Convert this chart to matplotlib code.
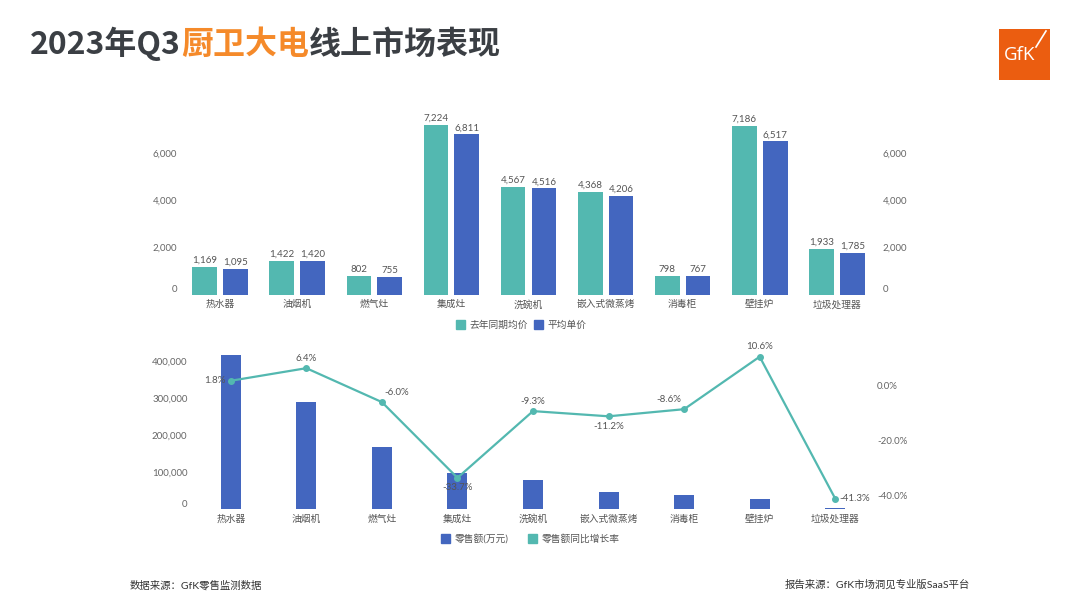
import numpy as np
import matplotlib
matplotlib.use('Agg')
import matplotlib.pyplot as plt
from matplotlib.patches import Patch, Rectangle
from matplotlib.lines import Line2D
from matplotlib.ticker import FuncFormatter

plt.rcParams['font.family'] = ['Lato', 'Noto Sans CJK SC', 'DejaVu Sans']

# 数据
categories = ['热水器', '油烟机', '燃气灶', '集成灶', '洗碗机', '嵌入式微蒸烤', '消毒柜', '壁挂炉', '垃圾处理器']
price_last_year = [1169, 1422, 802, 7224, 4567, 4368, 798, 7186, 1933]
price_avg = [1095, 1420, 755, 6811, 4516, 4206, 767, 6517, 1785]
sales = [415000, 288000, 167000, 98000, 78000, 46000, 37000, 27000, 3000]
growth = [1.8, 6.4, -6.0, -33.7, -9.3, -11.2, -8.6, 10.6, -41.3]

TEAL = '#53b8b0'
BLUE = '#4366bf'
GRAY = '#666666'
W, H = 1080, 608

fig = plt.figure(figsize=(W / 100, H / 100), dpi=100)


def fx(px):
    return px / W


def fy(py):
    return 1 - py / H


# ---- 标题 (分段着色) ----
renderer = fig.canvas.get_renderer()
x = fx(30)
for part, color in [('2023年Q3', '#3b3f44'), ('厨卫大电', '#f58a2a'), ('线上市场表现', '#3b3f44')]:
    t = fig.text(x, fy(54), part, fontsize=23, fontweight='bold', color=color,
                 ha='left', va='baseline', family=['Noto Sans CJK SC', 'DejaVu Sans'])
    bb = t.get_window_extent(renderer)
    x += bb.width / W

# ---- GfK logo ----
fig.patches.append(Rectangle((fx(999), fy(80)), fx(51), 51 / H, transform=fig.transFigure,
                             facecolor='#eb5d10', edgecolor='none'))
fig.text(fx(1020), fy(55), 'GfK', color='white', fontsize=13.5, ha='center', va='center',
         family=['Open Sans', 'DejaVu Sans'])
fig.lines.append(Line2D([fx(1036), fx(1046)], [fy(47), fy(31)], transform=fig.transFigure,
                        color='white', lw=1.2))


def zero_low(ax):
    # 0 刻度标签略微上移
    fig.canvas.draw()
    for lab in ax.get_yticklabels():
        if lab.get_text() == '0':
            lab.set_va('bottom')


def clean(ax):
    for s in ax.spines.values():
        s.set_visible(False)
    ax.tick_params(length=0, labelsize=7, colors=GRAY)


xs = np.arange(len(categories))
fmt = FuncFormatter(lambda v, p: f'{v:,.0f}')

# ---- 上图：均价 ----
ax1 = fig.add_axes([fx(181.5), fy(294.5), fx(694), (294.5 - 120.6) / H])
b1 = ax1.bar(xs - 0.2, price_last_year, width=0.32, color=TEAL)
b2 = ax1.bar(xs + 0.2, price_avg, width=0.32, color=BLUE)
for bars, vals in [(b1, price_last_year), (b2, price_avg)]:
    for r, v in zip(bars, vals):
        ax1.annotate(f'{v:,}', (r.get_x() + r.get_width() / 2, v), xytext=(0, 1.5),
                     textcoords='offset points', ha='center', va='bottom', fontsize=7,
                     color='#555555', annotation_clip=False)
ax1.set_xlim(-0.5, len(categories) - 0.5)
ax1.set_ylim(0, 7400)
ax1.set_yticks([0, 2000, 4000, 6000])
ax1.yaxis.set_major_formatter(fmt)
ax1.set_xticks(xs)
ax1.set_xticklabels(categories)
clean(ax1)
ax1.tick_params(axis='y', pad=3)
ax1.tick_params(axis='x', pad=4, colors='#555555')
ax1r = ax1.twinx()
ax1r.set_ylim(ax1.get_ylim())
ax1r.set_yticks([0, 2000, 4000, 6000])
ax1r.yaxis.set_major_formatter(fmt)
clean(ax1r)
ax1r.tick_params(axis='y', pad=5)

fig.legend(handles=[Patch(color=TEAL, label='去年同期均价'), Patch(color=BLUE, label='平均单价')],
           loc='center', bbox_to_anchor=(fx(521), fy(325)), ncol=2, frameon=False,
           fontsize=7, handlelength=1.0, handleheight=1.0, handletextpad=0.4,
           columnspacing=0.6, labelcolor='#555555')

# ---- 下图：零售额 + 同比 ----
ax2 = fig.add_axes([fx(193), fy(509), fx(680), (509 - 350) / H])
ax2.bar(xs, sales, width=0.265, color=BLUE)
ax2.set_xlim(-0.5, len(categories) - 0.5)
ax2.set_ylim(0, 429700)
ax2.set_yticks([0, 100000, 200000, 300000, 400000])
ax2.yaxis.set_major_formatter(fmt)
ax2.set_xticks(xs)
ax2.set_xticklabels(categories)
clean(ax2)
ax2.tick_params(axis='y', pad=4)
ax2.tick_params(axis='x', pad=4, colors='#555555')

ax2r = ax2.twinx()
ax2r.plot(xs, growth, color=TEAL, lw=1.6, marker='o', ms=4, clip_on=False, zorder=3)
ax2r.set_ylim(-45.1, 13.05)
ax2r.set_yticks([-40, -20, 0])
ax2r.yaxis.set_major_formatter(FuncFormatter(lambda v, p: f'{v:.1f}%'))
clean(ax2r)
ax2r.tick_params(axis='y', pad=3)

# 标签位置 (dx, dy, ha, va)
placements = [(-4, 0, 'right', 'center'), (0, 4, 'center', 'bottom'), (1.5, 4, 'left', 'bottom'),
              (0, -4, 'center', 'top'), (0, 4, 'center', 'bottom'), (0, -4, 'center', 'top'),
              (-2, 4, 'right', 'bottom'), (0, 4, 'center', 'bottom'), (3, 0, 'left', 'center')]
for xi, g, (dx, dy, ha, va) in zip(xs, growth, placements):
    ax2r.annotate(f'{g:.1f}%', (xi, g), xytext=(dx, dy), textcoords='offset points',
                  ha=ha, va=va, fontsize=7, color='#555555', annotation_clip=False, zorder=4)

fig.legend(handles=[Patch(color=BLUE, label='零售额(万元)'), Patch(color=TEAL, label='零售额同比增长率')],
           loc='center', bbox_to_anchor=(fx(530), fy(539)), ncol=2, frameon=False,
           fontsize=7, handlelength=1.0, handleheight=1.0, handletextpad=0.4,
           columnspacing=2.0, labelcolor='#555555')

# ---- 脚注 ----
fig.text(fx(130), fy(585), '数据来源：GfK零售监测数据', fontsize=7.5, color='#333333',
         ha='left', va='center')
fig.text(fx(970), fy(585), '报告来源：GfK市场洞见专业版SaaS平台', fontsize=7.5, color='#333333',
         ha='right', va='center')

for a in (ax1, ax1r, ax2, ax2r):
    zero_low(a)

fig.savefig('out.png', dpi=100)
